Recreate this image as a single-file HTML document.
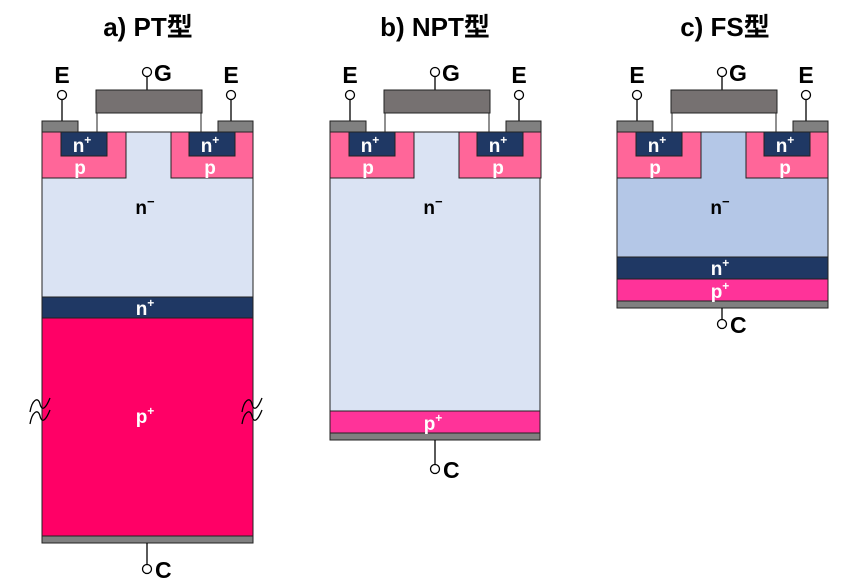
<!DOCTYPE html>
<html><head><meta charset="utf-8"><style>
html,body{margin:0;padding:0;background:#fff;}
svg{display:block;}
text{font-family:"Liberation Sans","Noto Sans CJK JP",sans-serif;font-weight:bold;}
</style></head><body>
<svg width="850" height="588" viewBox="0 0 850 588" xmlns="http://www.w3.org/2000/svg">
<defs>
<g id="top">
  <line x1="20" y1="100" x2="20" y2="121" stroke="#000" stroke-width="1.3"/>
  <circle cx="20" cy="95" r="4.5" fill="#fff" stroke="#000" stroke-width="1.3"/>
  <line x1="189" y1="100" x2="189" y2="121" stroke="#000" stroke-width="1.3"/>
  <circle cx="189" cy="95" r="4.5" fill="#fff" stroke="#000" stroke-width="1.3"/>
  <line x1="105" y1="77" x2="105" y2="90" stroke="#000" stroke-width="1.3"/>
  <circle cx="105" cy="72" r="4.5" fill="#fff" stroke="#000" stroke-width="1.3"/>
  <text x="20" y="83" font-size="23" text-anchor="middle">E</text>
  <text x="189" y="83" font-size="23" text-anchor="middle">E</text>
  <text x="112" y="81" font-size="23">G</text>
  <rect x="0" y="121" width="36" height="11" fill="#808080" stroke="#222" stroke-width="1"/>
  <rect x="176" y="121" width="35" height="11" fill="#808080" stroke="#222" stroke-width="1"/>
  <rect x="54" y="90" width="106" height="23" fill="#767171" stroke="#222" stroke-width="1"/>
  <rect x="55" y="113" width="104" height="19" fill="#fff" stroke="#222" stroke-width="1"/>
</g>
<g id="wells">
  <rect x="0" y="132" width="84" height="46" fill="#ff6699" stroke="#222" stroke-width="1"/>
  <rect x="19" y="132" width="46" height="24" fill="#1f3864" stroke="#222" stroke-width="1"/>
  <rect x="129" y="132" width="82" height="46" fill="#ff6699" stroke="#222" stroke-width="1"/>
  <rect x="147" y="132" width="46" height="24" fill="#1f3864" stroke="#222" stroke-width="1"/>
  <text x="40" y="152" font-size="19" fill="#fff" text-anchor="middle">n<tspan font-size="12" dy="-8">+</tspan></text>
  <text x="168" y="152" font-size="19" fill="#fff" text-anchor="middle">n<tspan font-size="12" dy="-8">+</tspan></text>
  <text x="38" y="174" font-size="19" fill="#fff" text-anchor="middle">p</text>
  <text x="168" y="174" font-size="19" fill="#fff" text-anchor="middle">p</text>
</g>
</defs>

<text x="148" y="36" font-size="26" text-anchor="middle">a) PT型</text>
<text x="435" y="36" font-size="26" text-anchor="middle">b) NPT型</text>
<text x="725" y="36" font-size="26" text-anchor="middle">c) FS型</text>

<g transform="translate(42,0)">
  <rect x="0" y="132" width="211" height="165" fill="#dae3f3" stroke="#222" stroke-width="1"/>
  <rect x="0" y="297" width="211" height="21" fill="#1f3864" stroke="#222" stroke-width="1"/>
  <rect x="0" y="318" width="211" height="218" fill="#ff0066" stroke="#222" stroke-width="1"/>
  <rect x="0" y="536" width="211" height="7" fill="#808080" stroke="#222" stroke-width="1"/>
  <use href="#wells"/>
  <use href="#top"/>
  <text x="103" y="214" font-size="19" text-anchor="middle">n<tspan font-size="13" dy="-8">−</tspan></text>
  <text x="103" y="315" font-size="19" fill="#fff" text-anchor="middle">n<tspan font-size="12" dy="-8">+</tspan></text>
  <text x="103" y="423" font-size="19" fill="#fff" text-anchor="middle">p<tspan font-size="12" dy="-8">+</tspan></text>
  <line x1="105" y1="543" x2="105" y2="565" stroke="#000" stroke-width="1.3"/>
  <circle cx="105" cy="569" r="4.5" fill="#fff" stroke="#000" stroke-width="1.3"/>
  <text x="113" y="578" font-size="23">C</text>
  <path d="M-12,412 c2,-12 8,-16 10,-8 c2,8 6,4 10,-6 M-12,424 c2,-12 8,-16 10,-8 c2,8 6,4 10,-6" fill="none" stroke="#000" stroke-width="1.3"/>
  <path d="M200,412 c2,-12 8,-16 10,-8 c2,8 6,4 10,-6 M200,424 c2,-12 8,-16 10,-8 c2,8 6,4 10,-6" fill="none" stroke="#000" stroke-width="1.3"/>
</g>

<g transform="translate(330,0)">
  <rect x="0" y="132" width="210" height="279" fill="#dae3f3" stroke="#222" stroke-width="1"/>
  <rect x="0" y="411" width="210" height="22" fill="#ff3399" stroke="#222" stroke-width="1"/>
  <rect x="0" y="433" width="210" height="7" fill="#808080" stroke="#222" stroke-width="1"/>
  <use href="#wells"/>
  <use href="#top"/>
  <text x="103" y="214" font-size="19" text-anchor="middle">n<tspan font-size="13" dy="-8">−</tspan></text>
  <text x="103" y="430" font-size="19" fill="#fff" text-anchor="middle">p<tspan font-size="12" dy="-8">+</tspan></text>
  <line x1="105" y1="440" x2="105" y2="465" stroke="#000" stroke-width="1.3"/>
  <circle cx="105" cy="469" r="4.5" fill="#fff" stroke="#000" stroke-width="1.3"/>
  <text x="113" y="478" font-size="23">C</text>
</g>

<g transform="translate(617,0)">
  <rect x="0" y="132" width="211" height="125" fill="#b4c7e7" stroke="#222" stroke-width="1"/>
  <rect x="0" y="257" width="211" height="22" fill="#1f3864" stroke="#222" stroke-width="1"/>
  <rect x="0" y="279" width="211" height="22" fill="#ff3399" stroke="#222" stroke-width="1"/>
  <rect x="0" y="301" width="211" height="7" fill="#808080" stroke="#222" stroke-width="1"/>
  <use href="#wells"/>
  <use href="#top"/>
  <text x="103" y="214" font-size="19" text-anchor="middle">n<tspan font-size="13" dy="-8">−</tspan></text>
  <text x="103" y="275" font-size="19" fill="#fff" text-anchor="middle">n<tspan font-size="12" dy="-8">+</tspan></text>
  <text x="103" y="298" font-size="19" fill="#fff" text-anchor="middle">p<tspan font-size="12" dy="-8">+</tspan></text>
  <line x1="105" y1="308" x2="105" y2="320" stroke="#000" stroke-width="1.3"/>
  <circle cx="105" cy="324" r="4.5" fill="#fff" stroke="#000" stroke-width="1.3"/>
  <text x="113" y="333" font-size="23">C</text>
</g>
</svg>
</body></html>
